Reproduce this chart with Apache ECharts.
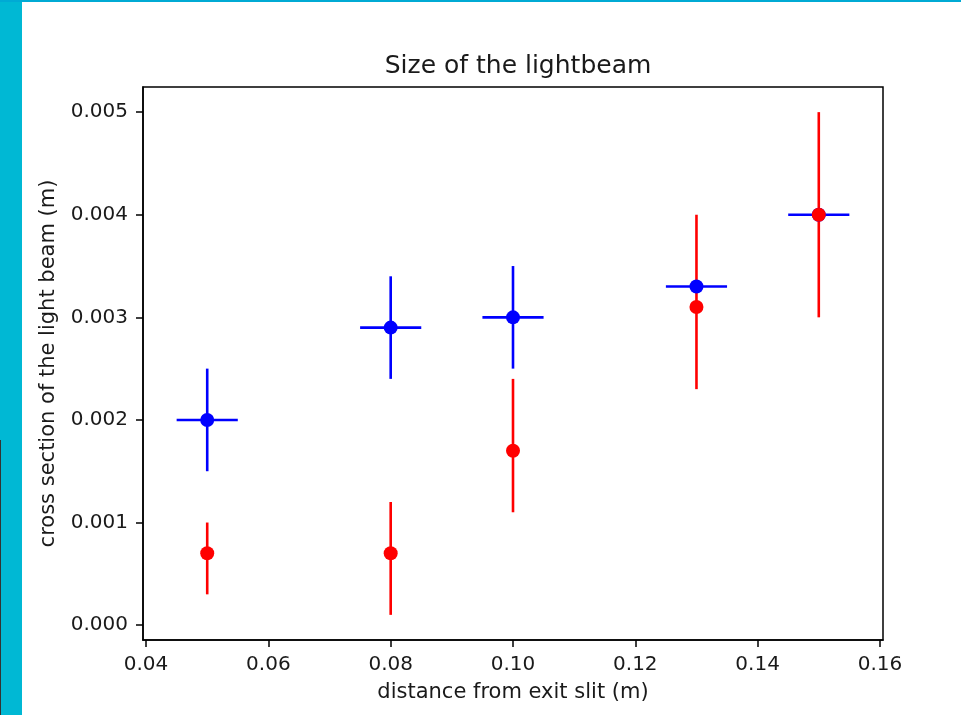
<!DOCTYPE html>
<html>
<head>
<meta charset="utf-8">
<script src="https://cdn.jsdelivr.net/npm/echarts@6/dist/echarts.min.js"></script>
<style>
html,body{margin:0;padding:0;background:#fff;}
#chart{width:961px;height:715px;}
</style>
</head>
<body>
<div id="chart"></div>
<script>
// ---- data ----
const xValues = [0.05, 0.08, 0.10, 0.13, 0.15];
const blueY = [0.0020, 0.0029, 0.0030, 0.0033, 0.0040];
const blueYErr = [0.0005, 0.0005, 0.0005, 0, 0];
const blueXErr = [0.005, 0.005, 0.005, 0.005, 0.005];
const redY = [0.0007, 0.0007, 0.0017, 0.0031, 0.0040];
const redLow = [0.0003, 0.0001, 0.0011, 0.0023, 0.0030];
const redHigh = [0.0010, 0.0012, 0.0024, 0.0040, 0.0050];
const xTicks = [0.04, 0.06, 0.08, 0.10, 0.12, 0.14, 0.16];
const yTicks = [0.000, 0.001, 0.002, 0.003, 0.004, 0.005];
const titleText = 'Size of the lightbeam';
const xLabel = 'distance from exit slit (m)';
const yLabel = 'cross section of the light beam (m)';

const FONT = '"DejaVu Sans", sans-serif';
const TXT = '#1a1a1a';
const BLUE = '#0000ff', RED = '#ff0000';

const blueErrData = xValues.map((x, i) => [x, blueY[i], x - blueXErr[i], x + blueXErr[i], blueY[i] - blueYErr[i], blueY[i] + blueYErr[i]]);
const redErrData = xValues.map((x, i) => [x, redY[i], x, x, redLow[i], redHigh[i]]);

function errRender(color) {
  return function (params, api) {
    const x = api.value(0), y = api.value(1);
    const x0 = api.value(2), x1 = api.value(3), y0 = api.value(4), y1 = api.value(5);
    const children = [];
    const style = { stroke: color, lineWidth: 2.6 };
    if (y1 > y0) {
      const a = api.coord([x, y0]), b = api.coord([x, y1]);
      children.push({ type: 'line', shape: { x1: a[0], y1: a[1], x2: b[0], y2: b[1] }, style });
    }
    if (x1 > x0) {
      const a = api.coord([x0, y]), b = api.coord([x1, y]);
      children.push({ type: 'line', shape: { x1: a[0], y1: a[1], x2: b[0], y2: b[1] }, style });
    }
    return { type: 'group', children };
  };
}

const chart = echarts.init(document.getElementById('chart'), null, { renderer: 'canvas' });
chart.setOption({
  animation: false,
  backgroundColor: '#ffffff',
  textStyle: { fontFamily: FONT },
  title: {
    text: titleText,
    left: 513, top: 49, textAlign: 'center',
    textStyle: { fontFamily: FONT, fontSize: 25, fontWeight: 'normal', color: TXT }
  },
  grid: {
    left: 143, right: 78, top: 87, bottom: 75,
    show: true, borderColor: '#000', borderWidth: 1.5, backgroundColor: 'transparent'
  },
  xAxis: {
    type: 'value', min: 0.0395, max: 0.1605,
    name: xLabel, nameLocation: 'middle', nameGap: 42,
    nameTextStyle: { fontFamily: FONT, fontSize: 21, color: TXT },
    splitLine: { show: false },
    axisLine: { show: true, onZero: false, lineStyle: { color: '#000', width: 1.5 } },
    axisTick: { show: true, length: 7, inside: false, lineStyle: { color: '#000', width: 1.5 }, customValues: xTicks },
    axisLabel: { customValues: xTicks, margin: 15, fontFamily: FONT, fontSize: 20, color: TXT, formatter: v => v.toFixed(2) }
  },
  yAxis: {
    type: 'value', min: -0.000145, max: 0.005245,
    name: yLabel, nameLocation: 'middle', nameGap: 84,
    nameTextStyle: { fontFamily: FONT, fontSize: 21, color: TXT },
    splitLine: { show: false },
    axisLine: { show: true, onZero: false, lineStyle: { color: '#000', width: 1.5 } },
    axisTick: { show: true, length: 7, inside: false, lineStyle: { color: '#000', width: 1.5 }, customValues: yTicks },
    axisLabel: { customValues: yTicks, margin: 15, fontFamily: FONT, fontSize: 20, color: TXT, formatter: v => v.toFixed(3) }
  },
  series: [
    { type: 'custom', renderItem: errRender(BLUE), data: blueErrData, z: 1, silent: true, encode: { x: [0, 2, 3], y: [1, 4, 5] } },
    { type: 'custom', renderItem: errRender(RED), data: redErrData, z: 1, silent: true, encode: { x: [0, 2, 3], y: [1, 4, 5] } },
    { type: 'scatter', data: xValues.map((x, i) => [x, blueY[i]]), symbol: 'circle', symbolSize: 14, itemStyle: { color: BLUE, opacity: 1 }, z: 3 },
    { type: 'scatter', data: xValues.map((x, i) => [x, redY[i]]), symbol: 'circle', symbolSize: 14, itemStyle: { color: RED, opacity: 1 }, z: 4 }
  ],
  graphic: [
    { type: 'rect', shape: { x: 0, y: 0, width: 22, height: 715 }, style: { fill: '#00b8d4' }, z: 100 },
    { type: 'rect', shape: { x: 0, y: 0, width: 961, height: 2 }, style: { fill: '#00aad4' }, z: 100 },
    { type: 'rect', shape: { x: 0, y: 440, width: 1, height: 275 }, style: { fill: '#333' }, z: 101 }
  ]
});
</script>
</body>
</html>
